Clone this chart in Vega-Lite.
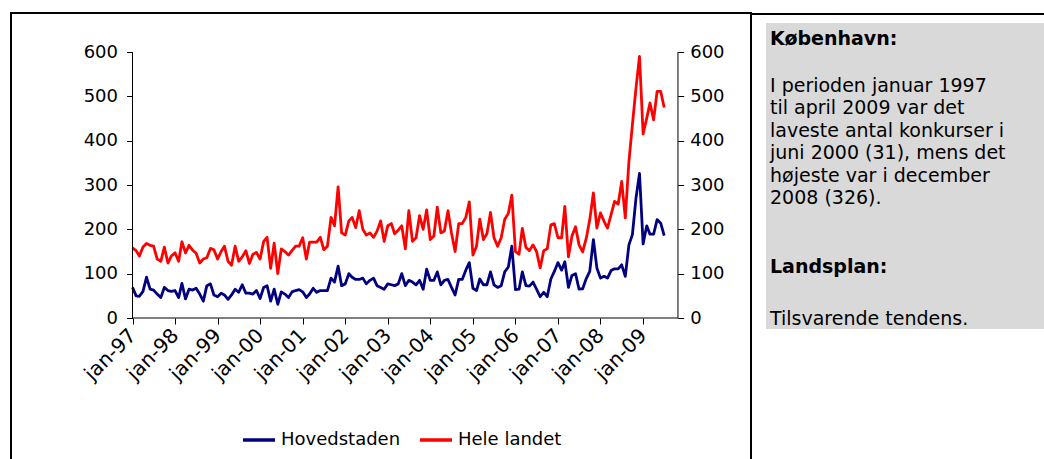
{
  "$schema": "https://vega.github.io/schema/vega-lite/v6.json",
  "padding": {"left": 10, "top": 12, "right": 0, "bottom": 0},
  "background": "white",
  "spacing": 0,
  "bounds": "flush",
  "config": {"font": "DejaVu Sans", "view": {"stroke": null}},
  "hconcat": [
    {
      "width": 740,
      "height": 460,
      "view": {"stroke": "#000", "strokeWidth": 2},
      "layer": [
        {
          "data": {"values": [
            {"d":"1997-01-01","Hovedstaden":69,"Hele landet":158},
            {"d":"1997-02-01","Hovedstaden":50,"Hele landet":152},
            {"d":"1997-03-01","Hovedstaden":49,"Hele landet":140},
            {"d":"1997-04-01","Hovedstaden":60,"Hele landet":160},
            {"d":"1997-05-01","Hovedstaden":92,"Hele landet":168},
            {"d":"1997-06-01","Hovedstaden":65,"Hele landet":164},
            {"d":"1997-07-01","Hovedstaden":63,"Hele landet":162},
            {"d":"1997-08-01","Hovedstaden":54,"Hele landet":133},
            {"d":"1997-09-01","Hovedstaden":46,"Hele landet":128},
            {"d":"1997-10-01","Hovedstaden":69,"Hele landet":160},
            {"d":"1997-11-01","Hovedstaden":62,"Hele landet":124},
            {"d":"1997-12-01","Hovedstaden":60,"Hele landet":140},
            {"d":"1998-01-01","Hovedstaden":62,"Hele landet":147},
            {"d":"1998-02-01","Hovedstaden":46,"Hele landet":128},
            {"d":"1998-03-01","Hovedstaden":78,"Hele landet":172},
            {"d":"1998-04-01","Hovedstaden":43,"Hele landet":147},
            {"d":"1998-05-01","Hovedstaden":65,"Hele landet":164},
            {"d":"1998-06-01","Hovedstaden":63,"Hele landet":153},
            {"d":"1998-07-01","Hovedstaden":67,"Hele landet":146},
            {"d":"1998-08-01","Hovedstaden":54,"Hele landet":124},
            {"d":"1998-09-01","Hovedstaden":38,"Hele landet":133},
            {"d":"1998-10-01","Hovedstaden":73,"Hele landet":136},
            {"d":"1998-11-01","Hovedstaden":77,"Hele landet":157},
            {"d":"1998-12-01","Hovedstaden":52,"Hele landet":154},
            {"d":"1999-01-01","Hovedstaden":48,"Hele landet":133},
            {"d":"1999-02-01","Hovedstaden":56,"Hele landet":150},
            {"d":"1999-03-01","Hovedstaden":52,"Hele landet":162},
            {"d":"1999-04-01","Hovedstaden":42,"Hele landet":128},
            {"d":"1999-05-01","Hovedstaden":52,"Hele landet":119},
            {"d":"1999-06-01","Hovedstaden":65,"Hele landet":162},
            {"d":"1999-07-01","Hovedstaden":58,"Hele landet":128},
            {"d":"1999-08-01","Hovedstaden":75,"Hele landet":138},
            {"d":"1999-09-01","Hovedstaden":56,"Hele landet":152},
            {"d":"1999-10-01","Hovedstaden":56,"Hele landet":123},
            {"d":"1999-11-01","Hovedstaden":54,"Hele landet":144},
            {"d":"1999-12-01","Hovedstaden":62,"Hele landet":148},
            {"d":"2000-01-01","Hovedstaden":44,"Hele landet":133},
            {"d":"2000-02-01","Hovedstaden":69,"Hele landet":173},
            {"d":"2000-03-01","Hovedstaden":73,"Hele landet":182},
            {"d":"2000-04-01","Hovedstaden":38,"Hele landet":112},
            {"d":"2000-05-01","Hovedstaden":65,"Hele landet":169},
            {"d":"2000-06-01","Hovedstaden":31,"Hele landet":100},
            {"d":"2000-07-01","Hovedstaden":59,"Hele landet":156},
            {"d":"2000-08-01","Hovedstaden":54,"Hele landet":150},
            {"d":"2000-09-01","Hovedstaden":46,"Hele landet":142},
            {"d":"2000-10-01","Hovedstaden":59,"Hele landet":152},
            {"d":"2000-11-01","Hovedstaden":62,"Hele landet":162},
            {"d":"2000-12-01","Hovedstaden":64,"Hele landet":162},
            {"d":"2001-01-01","Hovedstaden":59,"Hele landet":181},
            {"d":"2001-02-01","Hovedstaden":46,"Hele landet":133},
            {"d":"2001-03-01","Hovedstaden":54,"Hele landet":171},
            {"d":"2001-04-01","Hovedstaden":67,"Hele landet":171},
            {"d":"2001-05-01","Hovedstaden":58,"Hele landet":171},
            {"d":"2001-06-01","Hovedstaden":62,"Hele landet":182},
            {"d":"2001-07-01","Hovedstaden":62,"Hele landet":154},
            {"d":"2001-08-01","Hovedstaden":62,"Hele landet":162},
            {"d":"2001-09-01","Hovedstaden":90,"Hele landet":227},
            {"d":"2001-10-01","Hovedstaden":81,"Hele landet":208},
            {"d":"2001-11-01","Hovedstaden":117,"Hele landet":296},
            {"d":"2001-12-01","Hovedstaden":73,"Hele landet":192},
            {"d":"2002-01-01","Hovedstaden":77,"Hele landet":187},
            {"d":"2002-02-01","Hovedstaden":100,"Hele landet":219},
            {"d":"2002-03-01","Hovedstaden":92,"Hele landet":227},
            {"d":"2002-04-01","Hovedstaden":87,"Hele landet":204},
            {"d":"2002-05-01","Hovedstaden":87,"Hele landet":242},
            {"d":"2002-06-01","Hovedstaden":90,"Hele landet":200},
            {"d":"2002-07-01","Hovedstaden":77,"Hele landet":187},
            {"d":"2002-08-01","Hovedstaden":85,"Hele landet":192},
            {"d":"2002-09-01","Hovedstaden":90,"Hele landet":182},
            {"d":"2002-10-01","Hovedstaden":73,"Hele landet":196},
            {"d":"2002-11-01","Hovedstaden":69,"Hele landet":219},
            {"d":"2002-12-01","Hovedstaden":65,"Hele landet":173},
            {"d":"2003-01-01","Hovedstaden":77,"Hele landet":208},
            {"d":"2003-02-01","Hovedstaden":75,"Hele landet":213},
            {"d":"2003-03-01","Hovedstaden":73,"Hele landet":190},
            {"d":"2003-04-01","Hovedstaden":77,"Hele landet":198},
            {"d":"2003-05-01","Hovedstaden":100,"Hele landet":208},
            {"d":"2003-06-01","Hovedstaden":73,"Hele landet":156},
            {"d":"2003-07-01","Hovedstaden":85,"Hele landet":242},
            {"d":"2003-08-01","Hovedstaden":81,"Hele landet":173},
            {"d":"2003-09-01","Hovedstaden":75,"Hele landet":181},
            {"d":"2003-10-01","Hovedstaden":85,"Hele landet":231},
            {"d":"2003-11-01","Hovedstaden":65,"Hele landet":200},
            {"d":"2003-12-01","Hovedstaden":110,"Hele landet":244},
            {"d":"2004-01-01","Hovedstaden":85,"Hele landet":177},
            {"d":"2004-02-01","Hovedstaden":85,"Hele landet":185},
            {"d":"2004-03-01","Hovedstaden":104,"Hele landet":250},
            {"d":"2004-04-01","Hovedstaden":75,"Hele landet":192},
            {"d":"2004-05-01","Hovedstaden":85,"Hele landet":196},
            {"d":"2004-06-01","Hovedstaden":87,"Hele landet":242},
            {"d":"2004-07-01","Hovedstaden":69,"Hele landet":192},
            {"d":"2004-08-01","Hovedstaden":52,"Hele landet":150},
            {"d":"2004-09-01","Hovedstaden":87,"Hele landet":213},
            {"d":"2004-10-01","Hovedstaden":87,"Hele landet":213},
            {"d":"2004-11-01","Hovedstaden":108,"Hele landet":227},
            {"d":"2004-12-01","Hovedstaden":125,"Hele landet":262},
            {"d":"2005-01-01","Hovedstaden":67,"Hele landet":142},
            {"d":"2005-02-01","Hovedstaden":62,"Hele landet":162},
            {"d":"2005-03-01","Hovedstaden":88,"Hele landet":223},
            {"d":"2005-04-01","Hovedstaden":75,"Hele landet":177},
            {"d":"2005-05-01","Hovedstaden":75,"Hele landet":190},
            {"d":"2005-06-01","Hovedstaden":104,"Hele landet":238},
            {"d":"2005-07-01","Hovedstaden":75,"Hele landet":181},
            {"d":"2005-08-01","Hovedstaden":69,"Hele landet":162},
            {"d":"2005-09-01","Hovedstaden":73,"Hele landet":181},
            {"d":"2005-10-01","Hovedstaden":104,"Hele landet":223},
            {"d":"2005-11-01","Hovedstaden":115,"Hele landet":236},
            {"d":"2005-12-01","Hovedstaden":162,"Hele landet":277},
            {"d":"2006-01-01","Hovedstaden":64,"Hele landet":150},
            {"d":"2006-02-01","Hovedstaden":65,"Hele landet":144},
            {"d":"2006-03-01","Hovedstaden":104,"Hele landet":202},
            {"d":"2006-04-01","Hovedstaden":73,"Hele landet":159},
            {"d":"2006-05-01","Hovedstaden":72,"Hele landet":152},
            {"d":"2006-06-01","Hovedstaden":81,"Hele landet":165},
            {"d":"2006-07-01","Hovedstaden":65,"Hele landet":150},
            {"d":"2006-08-01","Hovedstaden":48,"Hele landet":113},
            {"d":"2006-09-01","Hovedstaden":58,"Hele landet":152},
            {"d":"2006-10-01","Hovedstaden":48,"Hele landet":156},
            {"d":"2006-11-01","Hovedstaden":88,"Hele landet":210},
            {"d":"2006-12-01","Hovedstaden":105,"Hele landet":213},
            {"d":"2007-01-01","Hovedstaden":125,"Hele landet":181},
            {"d":"2007-02-01","Hovedstaden":108,"Hele landet":181},
            {"d":"2007-03-01","Hovedstaden":127,"Hele landet":252},
            {"d":"2007-04-01","Hovedstaden":69,"Hele landet":138},
            {"d":"2007-05-01","Hovedstaden":96,"Hele landet":185},
            {"d":"2007-06-01","Hovedstaden":100,"Hele landet":206},
            {"d":"2007-07-01","Hovedstaden":65,"Hele landet":165},
            {"d":"2007-08-01","Hovedstaden":66,"Hele landet":149},
            {"d":"2007-09-01","Hovedstaden":89,"Hele landet":180},
            {"d":"2007-10-01","Hovedstaden":105,"Hele landet":222},
            {"d":"2007-11-01","Hovedstaden":177,"Hele landet":282},
            {"d":"2007-12-01","Hovedstaden":113,"Hele landet":203},
            {"d":"2008-01-01","Hovedstaden":90,"Hele landet":237},
            {"d":"2008-02-01","Hovedstaden":94,"Hele landet":218},
            {"d":"2008-03-01","Hovedstaden":90,"Hele landet":203},
            {"d":"2008-04-01","Hovedstaden":107,"Hele landet":233},
            {"d":"2008-05-01","Hovedstaden":111,"Hele landet":263},
            {"d":"2008-06-01","Hovedstaden":111,"Hele landet":257},
            {"d":"2008-07-01","Hovedstaden":120,"Hele landet":308},
            {"d":"2008-08-01","Hovedstaden":94,"Hele landet":226},
            {"d":"2008-09-01","Hovedstaden":165,"Hele landet":353},
            {"d":"2008-10-01","Hovedstaden":188,"Hele landet":436},
            {"d":"2008-11-01","Hovedstaden":271,"Hele landet":519},
            {"d":"2008-12-01","Hovedstaden":326,"Hele landet":590},
            {"d":"2009-01-01","Hovedstaden":167,"Hele landet":415},
            {"d":"2009-02-01","Hovedstaden":208,"Hele landet":451},
            {"d":"2009-03-01","Hovedstaden":189,"Hele landet":485},
            {"d":"2009-04-01","Hovedstaden":189,"Hele landet":447},
            {"d":"2009-05-01","Hovedstaden":222,"Hele landet":511},
            {"d":"2009-06-01","Hovedstaden":214,"Hele landet":511},
            {"d":"2009-07-01","Hovedstaden":186,"Hele landet":475}
          ]},
          "transform": [{"fold": ["Hovedstaden", "Hele landet"], "as": ["serie", "v"]}],
          "mark": {"type": "line", "strokeWidth": 2.8, "strokeJoin": "round"},
          "encoding": {
            "x": {
              "field": "d", "type": "temporal",
              "scale": {"type": "utc", "domain": [{"year": 1994, "month": 2, "date": 23, "utc": true}, {"year": 2011, "month": 7, "date": 16, "utc": true}]},
              "axis": {
                "values": [852076800000, 883612800000, 915148800000, 946684800000, 978307200000, 1009843200000, 1041379200000, 1072915200000, 1104537600000, 1136073600000, 1167609600000, 1199145600000, 1230768000000],
                "labelExpr": "'jan-' + utcFormat(datum.value, '%y')",
                "labelAngle": -45, "labelAlign": "right", "labelBaseline": "middle",
                "labelFontSize": 20, "labelColor": "#000", "labelPadding": 8,
                "labelOverlap": false, "labelBound": false, "labelFlush": false,
                "tickSize": 6, "tickColor": "#000", "domain": false, "grid": false,
                "title": null, "offset": -155, "orient": "bottom"
              }
            },
            "y": {
              "field": "v", "type": "quantitative",
              "scale": {"domain": [-349.6, 688], "nice": false, "zero": false},
              "axis": {
                "values": [0, 100, 200, 300, 400, 500, 600],
                "labelFontSize": 18, "labelColor": "#000", "labelPadding": 9,
                "labelOverlap": false, "labelFlush": false,
                "tickSize": 6, "tickColor": "#000", "domain": false, "grid": false,
                "title": null, "offset": -121.5
              }
            },
            "color": {
              "field": "serie", "type": "nominal",
              "scale": {"domain": ["Hovedstaden", "Hele landet"], "range": ["#000080", "#ff0000"]},
              "legend": {
                "orient": "none", "legendX": 230, "legendY": 409, "direction": "horizontal",
                "title": null, "symbolType": "stroke", "symbolStrokeWidth": 3.5, "symbolSize": 1024,
                "labelFontSize": 18, "labelColor": "#000", "labelOffset": 4, "columnPadding": 12
              }
            }
          }
        },
        {
          "data": {"values": [{}]},
          "mark": {"type": "rule", "color": "#000", "strokeWidth": 1},
          "encoding": {
            "x": {"datum": {"year": 1997, "month": 1, "date": 1, "utc": true}, "type": "temporal"},
            "y": {"datum": 0, "type": "quantitative", "scale": {"domain": [-349.6, 688], "nice": false, "zero": false}, "axis": null},
            "y2": {"datum": 600}
          }
        },
        {
          "data": {"values": [{}]},
          "mark": {"type": "rule", "color": "#000", "strokeWidth": 1},
          "encoding": {
            "x": {"datum": {"year": 2009, "month": 10, "date": 27, "utc": true}, "type": "temporal"},
            "y": {
              "datum": 0, "type": "quantitative",
              "scale": {"domain": [-349.6, 688], "nice": false, "zero": false},
              "axis": {
                "orient": "right",
                "values": [0, 100, 200, 300, 400, 500, 600],
                "labelFontSize": 18, "labelColor": "#000", "labelPadding": 6,
                "labelOverlap": false, "labelFlush": false,
                "tickSize": 6, "tickColor": "#000", "domain": false, "grid": false,
                "title": null, "offset": -73.3
              }
            },
            "y2": {"datum": 600}
          }
        },
        {
          "data": {"values": [{}]},
          "mark": {"type": "rule", "color": "#000", "strokeWidth": 1},
          "encoding": {
            "x": {"datum": {"year": 1997, "month": 1, "date": 1, "utc": true}, "type": "temporal"},
            "x2": {"datum": {"year": 2009, "month": 10, "date": 27, "utc": true}},
            "y": {"datum": 0, "type": "quantitative", "scale": {"domain": [-349.6, 688], "nice": false, "zero": false}, "axis": null}
          }
        }
      ],
      "resolve": {"axis": {"y": "independent"}}
    },
    {
      "vconcat": [
        {
          "width": 310,
          "height": 1,
          "view": {"stroke": "#000", "strokeWidth": 1},
          "data": {"values": []},
          "mark": {"type": "text", "text": ""}
        },
        {
          "width": 280,
          "height": 306,
          "view": {"fill": "#d9d9d9", "stroke": null},
          "data": {"values": [
            {"line": 0, "t": "København:", "b": 1},
            {"line": 2.1, "t": "I perioden januar 1997", "b": 0},
            {"line": 3.1, "t": "til april 2009 var det", "b": 0},
            {"line": 4.1, "t": "laveste antal konkurser i", "b": 0},
            {"line": 5.1, "t": "juni 2000 (31), mens det", "b": 0},
            {"line": 6.1, "t": "højeste var i december", "b": 0},
            {"line": 7.1, "t": "2008 (326).", "b": 0},
            {"line": 10.18, "t": "Landsplan:", "b": 1},
            {"line": 12.5, "t": "Tilsvarende tendens.", "b": 0}
          ]},
          "layer": [
            {
              "transform": [{"filter": "datum.b == 1"}],
              "mark": {"type": "text", "align": "left", "baseline": "middle", "dx": 4, "fontSize": 19, "fontWeight": "bold", "color": "#000"},
              "encoding": {
                "x": {"datum": 0, "type": "quantitative", "scale": {"domain": [0, 1]}, "axis": null},
                "y": {"field": "line", "type": "quantitative", "scale": {"domain": [-0.714, 12.946], "reverse": true, "nice": false, "zero": false}, "axis": null},
                "text": {"field": "t"}
              }
            },
            {
              "transform": [{"filter": "datum.b == 0"}],
              "mark": {"type": "text", "align": "left", "baseline": "middle", "dx": 4, "fontSize": 19, "color": "#000"},
              "encoding": {
                "x": {"datum": 0, "type": "quantitative", "scale": {"domain": [0, 1]}, "axis": null},
                "y": {"field": "line", "type": "quantitative", "scale": {"domain": [-0.714, 12.946], "reverse": true, "nice": false, "zero": false}, "axis": null},
                "text": {"field": "t"}
              }
            }
          ]
        }
      ],
      "spacing": 9,
      "center": true,
      "bounds": "flush"
    }
  ]
}
